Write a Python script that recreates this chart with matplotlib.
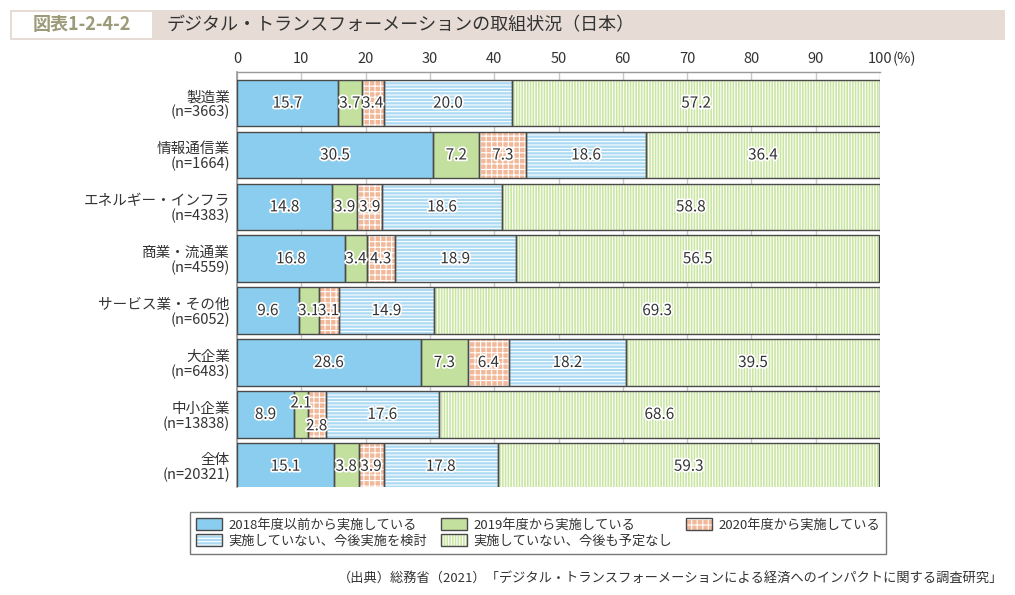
import numpy as np
import matplotlib.pyplot as plt
import matplotlib.patheffects as pe
from matplotlib.patches import Rectangle, Patch
from matplotlib.legend_handler import HandlerTuple

plt.rcParams["font.family"] = ["Noto Sans CJK JP", "DejaVu Sans"]
plt.rcParams["hatch.linewidth"] = 0.8

# ============================================================
# Data
# ============================================================

categories = [
    "製造業\n(n=3663)",
    "情報通信業\n(n=1664)",
    "エネルギー・インフラ\n(n=4383)",
    "商業・流通業\n(n=4559)",
    "サービス業・その他\n(n=6052)",
    "大企業\n(n=6483)",
    "中小企業\n(n=13838)",
    "全体\n(n=20321)",
]

series_names = [
    "2018年度以前から実施している",
    "2019年度から実施している",
    "2020年度から実施している",
    "実施していない、今後実施を検討",
    "実施していない、今後も予定なし",
]

before_2018 = [15.7, 30.5, 14.8, 16.8, 9.6, 28.6, 8.9, 15.1]
from_2019 = [3.7, 7.2, 3.9, 3.4, 3.1, 7.3, 2.1, 3.8]
from_2020 = [3.4, 7.3, 3.9, 4.3, 3.1, 6.4, 2.8, 3.9]
considering = [20.0, 18.6, 18.6, 18.9, 14.9, 18.2, 17.6, 17.8]
no_plan = [57.2, 36.4, 58.8, 56.5, 69.3, 39.5, 68.6, 59.3]

series_values = [before_2018, from_2019, from_2020, considering, no_plan]

fill_colors = ["#8bcdee", "#c4e09e", "#f1b999", "#acdaf3", "#c9e5a2"]
hatches = [None, None, "+++", "-----", "||||||"]
EDGE = "#4a4a4a"
TXT = "#333333"

# ============================================================
# Figure
# ============================================================

fig = plt.figure(figsize=(10.15, 5.95), dpi=100)
ax = fig.add_axes([237 / 1015, 1 - 487 / 595, (880 - 237) / 1015, (487 - 72) / 595])

y = np.arange(len(categories))
left = np.zeros(len(categories))
text_fx = [pe.withStroke(linewidth=2.5, foreground="white")]

for k, vals in enumerate(series_values):
    vals = np.array(vals)
    ax.barh(y, vals, left=left, height=0.9, color=fill_colors[k],
            edgecolor="white", hatch=hatches[k], linewidth=0, zorder=2)
    ax.barh(y, vals, left=left, height=0.9, fill=False,
            edgecolor=EDGE, linewidth=1.0, zorder=3)

    for i, v in enumerate(vals):
        dy = 0
        if i == 6 and k == 1:
            dy = -0.22
        if i == 6 and k == 2:
            dy = 0.22
        ax.text(left[i] + v / 2, y[i] + dy, f"{v:.1f}", ha="center", va="center",
                fontsize=11, color=TXT, zorder=4, path_effects=text_fx)
    left += vals

ax.set_xlim(0, 100)
ax.set_ylim(7.4, -0.6)
ax.set_yticks(y)
ax.set_yticklabels(categories, fontsize=10.5, color=TXT, ha="right",
                   linespacing=1.05)

xt = np.arange(0, 101, 10)
ax.set_xticks(xt)
ax.set_xticklabels([str(v) for v in xt], fontsize=10.5, color=TXT)
ax.xaxis.tick_top()
ax.tick_params(axis="x", length=0, pad=4)
ax.tick_params(axis="y", length=0, pad=5)
ax.annotate("(%)", xy=(100, 1), xycoords=("data", "axes fraction"),
            xytext=(9, 4), textcoords="offset points", ha="left", va="bottom",
            fontsize=10.5, color=TXT, annotation_clip=False)

ax.grid(axis="x", color="#c8c8c8", linewidth=1.0, zorder=0)
ax.set_axisbelow(True)
for s in ["right", "bottom"]:
    ax.spines[s].set_visible(False)
ax.spines["top"].set_color("#9a9a9a")
ax.spines["left"].set_color("#9a9a9a")
ax.spines["top"].set_linewidth(1.0)
ax.spines["left"].set_linewidth(1.2)

# ============================================================
# Title band
# ============================================================

fig.patches.append(Rectangle((10 / 1015, 1 - 40 / 595), 995 / 1015, 30 / 595,
                             transform=fig.transFigure, facecolor="#e6dcd5",
                             edgecolor="none", zorder=0))
fig.patches.append(Rectangle((12 / 1015, 1 - 38 / 595), 140 / 1015, 26 / 595,
                             transform=fig.transFigure, facecolor="white",
                             edgecolor="none", zorder=1))
fig.text(82 / 1015, 1 - 25 / 595, "図表1-2-4-2", ha="center", va="center",
         fontsize=13, fontweight="bold", color="#9c9a78")
fig.text(166 / 1015, 1 - 25 / 595, "デジタル・トランスフォーメーションの取組状況（日本）",
         ha="left", va="center", fontsize=13, color=TXT)

# ============================================================
# Legend
# ============================================================

handles = []
for k in range(5):
    fill = Patch(facecolor=fill_colors[k], edgecolor="white", hatch=hatches[k], linewidth=0)
    border = Patch(fill=False, edgecolor=EDGE, linewidth=1.0)
    handles.append((fill, border))
order = [0, 3, 1, 4, 2]
leg = fig.legend([handles[i] for i in order], [series_names[i] for i in order],
                 handler_map={tuple: HandlerTuple(ndivide=1, pad=0)},
                 ncol=3, loc="center", bbox_to_anchor=(538 / 1015, 1 - 533 / 595),
                 fontsize=9.5, frameon=True, fancybox=False, edgecolor="#555555",
                 handlelength=2.0, handleheight=1.0, columnspacing=1.0,
                 labelspacing=0.2, borderpad=0.45, handletextpad=0.5)
leg.get_frame().set_linewidth(1.0)
for t in leg.get_texts():
    t.set_color(TXT)

fig.text(1003 / 1015, 1 - 578 / 595,
         "（出典）総務省（2021）「デジタル・トランスフォーメーションによる経済へのインパクトに関する調査研究」",
         ha="right", va="center", fontsize=9.5, color=TXT)

fig.savefig("out.png", dpi=100)
